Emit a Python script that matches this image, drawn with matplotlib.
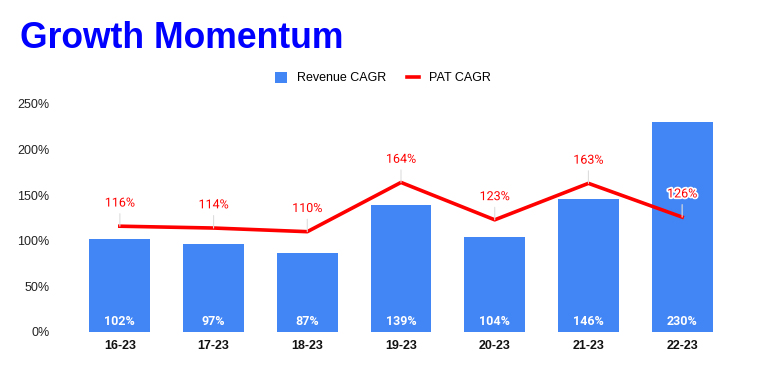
import matplotlib.pyplot as plt
import matplotlib.patheffects as pe
import numpy as np

plt.rcParams['font.family'] = ['Liberation Sans', 'DejaVu Sans']

periods = ['16-23', '17-23', '18-23', '19-23', '20-23', '21-23', '22-23']
revenue_cagr = [102, 97, 87, 139, 104, 146, 230]
pat_cagr = [116, 114, 110, 164, 123, 163, 126]
yticks = [0, 50, 100, 150, 200, 250]

fig = plt.figure(figsize=(7.64, 3.71), dpi=100)
ax = fig.add_axes([73 / 764, 1 - 332 / 371, 656 / 764, 228 / 371])

x = np.arange(len(periods))
bars = ax.bar(x, revenue_cagr, width=0.65, color='#4285F4', label='Revenue CAGR', zorder=2)
line, = ax.plot(x, pat_cagr, color='#FF0000', lw=2.6, label='PAT CAGR', zorder=3)

for xi, v in zip(x, revenue_cagr):
    ax.text(xi, 4, f'{v}%', ha='center', va='bottom', color='white',
            fontsize=9, fontweight='bold', family=['Roboto', 'DejaVu Sans'], zorder=4)

for xi, v in zip(x, pat_cagr):
    ax.annotate(f'{v}%', xy=(xi, v), xytext=(0, 12), textcoords='offset points',
                ha='center', va='bottom', color='#FF0000', fontsize=9,
                family=['Roboto', 'DejaVu Sans'],
                arrowprops=dict(arrowstyle='-', color='#dddddd', lw=0.8, shrinkA=1, shrinkB=0),
                path_effects=[pe.withStroke(linewidth=2.5, foreground='white')], zorder=5)

ax.set_xlim(-0.5, len(periods) - 0.5)
ax.set_ylim(0, 250)
ax.set_yticks(yticks)
ax.set_yticklabels([f'{t}%' for t in yticks], fontsize=9, color='#222222')
ax.set_xticks(x)
ax.set_xticklabels(periods, fontsize=9, fontweight='bold', color='#111111')
ax.tick_params(length=0)
ax.tick_params(axis='y', pad=17)
ax.tick_params(axis='x', pad=6)
for s in ax.spines.values():
    s.set_visible(False)

fig.legend([bars, line], ['Revenue CAGR', 'PAT CAGR'], loc='center',
           bbox_to_anchor=(383 / 764, 1 - 78 / 371),
           ncol=2, frameon=False, fontsize=9, handlelength=1.0, handleheight=1.0,
           columnspacing=1.6, handletextpad=0.8)

fig.text(20 / 764, 1 - 39 / 371, 'Growth Momentum', color='#0000FF', fontsize=25.6,
         fontweight='bold', va='center', ha='left')

fig.savefig('out.png', dpi=100)
